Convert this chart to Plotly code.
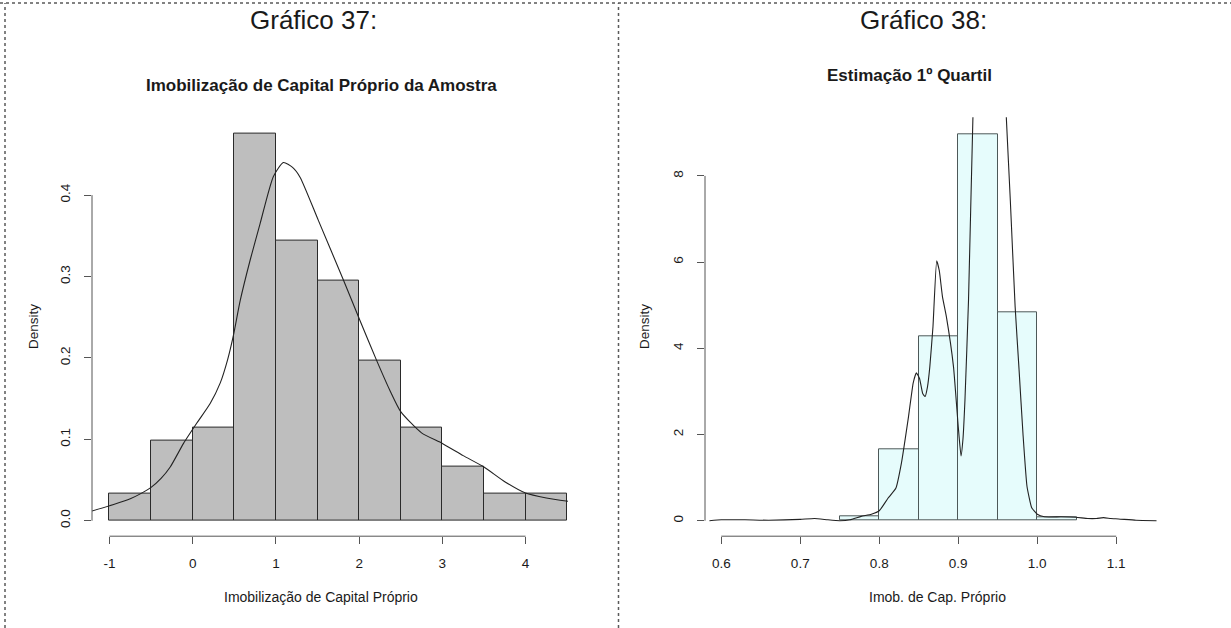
import plotly.graph_objects as go

# ---- Gráfico 37: histogram + density of the sample ----
left_edges = [-1.0, -0.5, 0.0, 0.5, 1.0, 1.5, 2.0, 2.5, 3.0, 3.5, 4.0, 4.5]
left_density = [0.033, 0.098, 0.115, 0.475, 0.344, 0.295, 0.197, 0.115, 0.066, 0.033, 0.033]

left_kde_x = [-1.21, -0.95, -0.75, -0.63, -0.50, -0.38, -0.27, -0.11, 0.05, 0.21, 0.33,
              0.42, 0.49, 0.57, 0.69, 0.81, 0.97, 1.09, 1.20, 1.29, 1.51, 1.81, 2.01,
              2.21, 2.37, 2.50, 2.75, 3.00, 3.25, 3.50, 3.75, 4.00, 4.25, 4.51]
left_kde_y = [0.012, 0.020, 0.027, 0.033, 0.041, 0.052, 0.066, 0.095, 0.120, 0.144, 0.169,
              0.198, 0.228, 0.270, 0.320, 0.365, 0.423, 0.440, 0.434, 0.422, 0.369, 0.296, 0.246,
              0.197, 0.160, 0.134, 0.108, 0.095, 0.080, 0.066, 0.048, 0.034, 0.028, 0.024]

left_xticks = [-1, 0, 1, 2, 3, 4]
left_yticks = [0.0, 0.1, 0.2, 0.3, 0.4]
left_ytext = ["0.0", "0.1", "0.2", "0.3", "0.4"]

# ---- Gráfico 38: first-quartile estimates ----
right_edges = [0.75, 0.80, 0.85, 0.90, 0.95, 1.00, 1.05]
right_density = [0.10, 1.66, 4.27, 8.97, 4.83, 0.09]

right_kde_x = [0.585, 0.600, 0.630, 0.660, 0.700, 0.718, 0.735, 0.750, 0.763, 0.777, 0.790,
               0.800, 0.811, 0.821, 0.828, 0.837, 0.843, 0.847, 0.851, 0.855, 0.858, 0.861,
               0.864, 0.868, 0.8727, 0.876, 0.880, 0.885, 0.894, 0.900, 0.9035, 0.906, 0.9085,
               0.913, 0.9185, 0.925, 0.935, 0.945, 0.955, 0.961, 0.966, 0.972, 0.977, 0.982,
               0.987, 0.993, 1.000, 1.009, 1.030, 1.049, 1.064, 1.075, 1.084, 1.093, 1.103,
               1.125, 1.151]
right_kde_y = [0.00, 0.02, 0.02, 0.01, 0.03, 0.05, 0.02, 0.00, 0.02, 0.10, 0.15,
               0.23, 0.52, 0.75, 1.33, 2.41, 3.20, 3.43, 3.30, 2.95, 2.88, 3.10,
               3.57, 4.50, 6.03, 5.80, 5.20, 4.73, 3.57, 2.18, 1.50, 1.90, 2.80,
               5.12, 9.30, 12.5, 14.0, 14.0, 12.0, 9.30, 7.40, 4.97, 3.50, 2.00,
               0.80, 0.30, 0.15, 0.09, 0.09, 0.08, 0.05, 0.05, 0.07, 0.05, 0.04,
               0.01, 0.00]

right_xticks = [0.6, 0.7, 0.8, 0.9, 1.0, 1.1]
right_xtext = ["0.6", "0.7", "0.8", "0.9", "1.0", "1.1"]
right_yticks = [0, 2, 4, 6, 8]

W, H = 1231, 628
FONT = "Liberation Sans, Arial, sans-serif"
INK = "#1a1a1a"
AXIS = "#555555"


def centers(edges):
    return [(a + b) / 2 for a, b in zip(edges[:-1], edges[1:])]


def widths(edges):
    return [b - a for a, b in zip(edges[:-1], edges[1:])]


# plot regions in paper units
L_DOM_X = [92.0 / W, 568.0 / W]
L_DOM_Y = [1 - 536.2 / H, 1 - 118.6 / H]
R_DOM_X = [705.0 / W, 1172.0 / W]
R_DOM_Y = [1 - 536.2 / H, 1 - 117.3 / H]

fig = go.Figure()

fig.add_trace(go.Bar(
    x=centers(left_edges), y=left_density, width=widths(left_edges),
    marker=dict(color="#bebebe", line=dict(color="#2a2a2a", width=1)),
    xaxis="x", yaxis="y", hoverinfo="skip"))
fig.add_trace(go.Scatter(
    x=left_kde_x, y=left_kde_y, mode="lines",
    line=dict(color="#222222", width=1.1, shape="spline", smoothing=0.6),
    xaxis="x", yaxis="y", hoverinfo="skip"))

fig.add_trace(go.Bar(
    x=centers(right_edges), y=right_density, width=widths(right_edges),
    marker=dict(color="#e6fcfc", line=dict(color="#4d5858", width=1)),
    xaxis="x2", yaxis="y2", hoverinfo="skip"))
fig.add_trace(go.Scatter(
    x=right_kde_x, y=right_kde_y, mode="lines",
    line=dict(color="#222222", width=1.1, shape="spline", smoothing=0.4),
    xaxis="x2", yaxis="y2", hoverinfo="skip"))

tickfont = dict(family=FONT, size=13.5, color=INK)
common_x = dict(showgrid=False, zeroline=False, showline=False, ticks="outside",
                ticklen=7, tickwidth=1, tickcolor=AXIS, tickfont=tickfont,
                ticklabelstandoff=8, fixedrange=True)
common_y = dict(showgrid=False, zeroline=False, showline=False, ticks="outside",
                ticklen=7, tickwidth=1, tickcolor=AXIS, tickfont=tickfont,
                tickangle=-90, ticklabelstandoff=9, fixedrange=True)

fig.update_layout(
    width=W, height=H, margin=dict(l=0, r=0, t=0, b=0),
    paper_bgcolor="white", plot_bgcolor="rgba(0,0,0,0)",
    showlegend=False, bargap=0,
    xaxis=dict(common_x, domain=L_DOM_X, range=[-1.21, 4.51], anchor="y",
               tickvals=left_xticks, ticktext=[str(v) for v in left_xticks]),
    yaxis=dict(common_y, domain=L_DOM_Y, range=[-0.019, 0.494], anchor="x",
               tickvals=left_yticks, ticktext=left_ytext),
    xaxis2=dict(common_x, domain=R_DOM_X, range=[0.5794, 1.1706], anchor="y2",
                tickvals=right_xticks, ticktext=right_xtext),
    yaxis2=dict(common_y, domain=R_DOM_Y, range=[-0.36, 9.36], anchor="x2",
                tickvals=right_yticks, ticktext=[str(v) for v in right_yticks]),
)

shapes = []
# axis lines run only between the first and last tick
shapes.append(dict(type="line", xref="x", yref="paper", x0=min(left_xticks), x1=max(left_xticks),
                   y0=L_DOM_Y[0], y1=L_DOM_Y[0], line=dict(color=AXIS, width=1)))
shapes.append(dict(type="line", xref="paper", yref="y", x0=L_DOM_X[0], x1=L_DOM_X[0],
                   y0=min(left_yticks), y1=max(left_yticks), line=dict(color=AXIS, width=1)))
shapes.append(dict(type="line", xref="x2", yref="paper", x0=min(right_xticks), x1=max(right_xticks),
                   y0=R_DOM_Y[0], y1=R_DOM_Y[0], line=dict(color=AXIS, width=1)))
shapes.append(dict(type="line", xref="paper", yref="y2", x0=R_DOM_X[0], x1=R_DOM_X[0],
                   y0=min(right_yticks), y1=max(right_yticks), line=dict(color=AXIS, width=1)))
# dotted frame of the document table
frame = dict(color="#5a5a5a", width=1.5, dash="dot")
shapes.append(dict(type="line", xref="paper", yref="paper", x0=0, x1=1,
                   y0=1 - 3 / H, y1=1 - 3 / H, line=frame))
shapes.append(dict(type="line", xref="paper", yref="paper", x0=5 / W, x1=5 / W,
                   y0=0, y1=1 - 3 / H, line=frame))
shapes.append(dict(type="line", xref="paper", yref="paper", x0=618.5 / W, x1=618.5 / W,
                   y0=0, y1=1 - 3 / H, line=frame))
fig.update_layout(shapes=shapes)


def label(text, px, py, size, bold=False, angle=0):
    return dict(text=("<b>%s</b>" % text) if bold else text, x=px / W, y=1 - py / H,
                xref="paper", yref="paper", showarrow=False, textangle=angle,
                xanchor="center", yanchor="middle",
                font=dict(family=FONT, size=size, color=INK))


fig.update_layout(annotations=[
    label("Gráfico 37:", 313, 20, 26),
    label("Gráfico 38:", 923, 20, 26),
    label("Imobilização de Capital Próprio da Amostra", 321, 86, 17, bold=True),
    label("Estimação 1º Quartil", 909, 75, 17, bold=True),
    label("Imobilização de Capital Próprio", 321, 597, 14),
    label("Imob. de Cap. Próprio", 938, 597, 14),
    label("Density", 33, 327, 13.5, angle=-90),
    label("Density", 644, 327, 13.5, angle=-90),
])

fig.write_html("out.html")
